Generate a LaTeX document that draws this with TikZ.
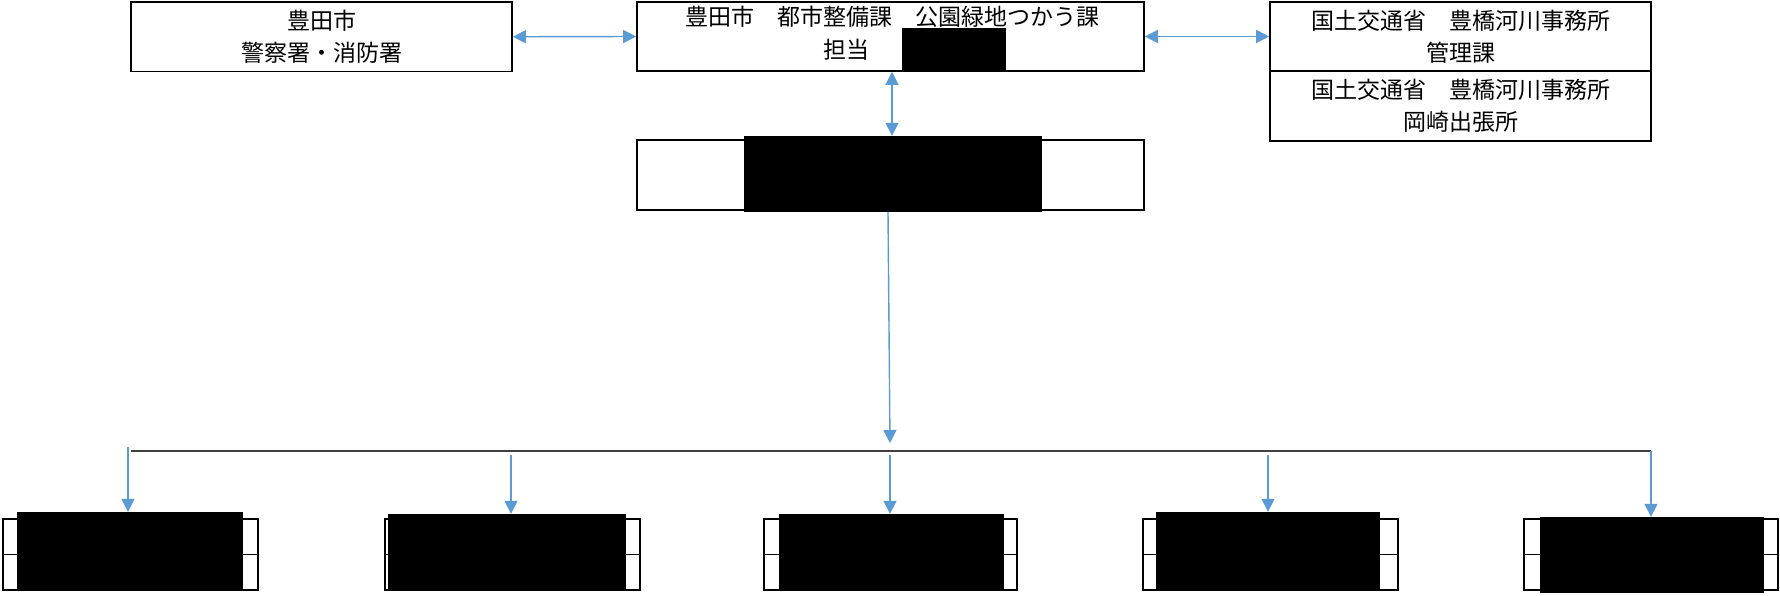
\documentclass[tikz,border=0pt]{standalone}
\usepackage{fontspec}
\setmainfont{Noto Sans CJK JP}
\usetikzlibrary{arrows.meta}
\definecolor{arrowblue}{HTML}{5B9BD5}
\definecolor{bargray}{HTML}{404040}
\begin{document}
\begin{tikzpicture}[x=1pt,y=-1pt,
  box/.style={draw=black,line width=1.6pt,inner sep=0pt,align=center,
    font=\fontsize{23}{32.5}\selectfont},
  redact/.style={fill=black,draw=none,inner sep=0pt},
  txt/.style={inner sep=0pt,font=\fontsize{23}{32.5}\selectfont},
  conn/.style={draw=arrowblue,line width=1.4pt},
  tip/.style={-{Triangle[width=13pt,length=13pt]}},
  dtip/.style={{Triangle[width=13pt,length=13pt]}-{Triangle[width=13pt,length=13pt]}}]
\useasboundingbox (0,0) rectangle (1780,595);
% top row
\node[box,minimum width=381pt,minimum height=69.5pt] (b1) at (321.5,36.75) {豊田市\\警察署・消防署};
\node[box,minimum width=507pt,minimum height=69pt] (b2) at (890.5,36.5) {};
\node[txt] (t2a) at (892,17) {豊田市　都市整備課　公園緑地つかう課};
\node[txt] (t2b) at (846,50) {担当};
\node[redact,minimum width=104pt,minimum height=44pt] (r2) at (954,50) {};
\node[box,minimum width=381pt,minimum height=69pt] (b3a) at (1460.5,36.5) {国土交通省　豊橋河川事務所\\管理課};
\node[box,minimum width=381pt,minimum height=70pt] (b3b) at (1460.5,106) {国土交通省　豊橋河川事務所\\岡崎出張所};
% middle
\node[box,minimum width=507pt,minimum height=70pt] (b4) at (890.5,175) {};
\node[redact,minimum width=298pt,minimum height=76pt] (r4) at (893,174) {};
% bottom row outer boxes
\foreach \n/\x/\w in {c1/130.5/255,c2/512.5/255,c3/890.5/253,c4/1270.5/255,c5/1651/254}{
  \node[box,minimum width=\w pt,minimum height=71pt] (\n) at (\x,554.5) {};
  \draw[line width=1.6pt] (\n.west) -- (\n.east);
}
% bottom redactions
\node[redact,minimum width=226pt,minimum height=77pt] (k1) at (130,550.5) {};
\node[redact,minimum width=238pt,minimum height=76pt] (k2) at (507,552) {};
\node[redact,minimum width=225pt,minimum height=76pt] (k3) at (891.5,552) {};
\node[redact,minimum width=224pt,minimum height=78pt] (k4) at (1268,551) {};
\node[redact,minimum width=224pt,minimum height=76pt] (k5) at (1652,555) {};
% connectors top
\draw[conn,dtip,fill=arrowblue] (b1.east) -- (b2.west);
\draw[conn,dtip,fill=arrowblue] (b2.east) -- (b3a.west);
\draw[conn,dtip,fill=arrowblue] (b2.south -| 892,0) -- (r4.north -| 892,0);
% trunk
\coordinate (hub) at (890,443);
\draw[conn,tip,fill=arrowblue] (r4.south -| 888,0) -- (hub);
\coordinate (barL) at (131,451);
\coordinate (barR) at (1651,451);
\draw[draw=bargray,line width=2pt] (barL) -- (barR);
% drops
\coordinate (d1) at (128,447);
\coordinate (d2) at (511,455);
\coordinate (d3) at (890,455);
\coordinate (d4) at (1268,455);
\coordinate (d5) at (1651,451);
\draw[conn,tip,fill=arrowblue] (d1) -- (d1 |- k1.north);
\draw[conn,tip,fill=arrowblue] (d2) -- (d2 |- k2.north);
\draw[conn,tip,fill=arrowblue] (d3) -- (d3 |- k3.north);
\draw[conn,tip,fill=arrowblue] (d4) -- (d4 |- k4.north);
\draw[conn,tip,fill=arrowblue] (d5) -- (d5 |- k5.north);
\end{tikzpicture}
\end{document}
